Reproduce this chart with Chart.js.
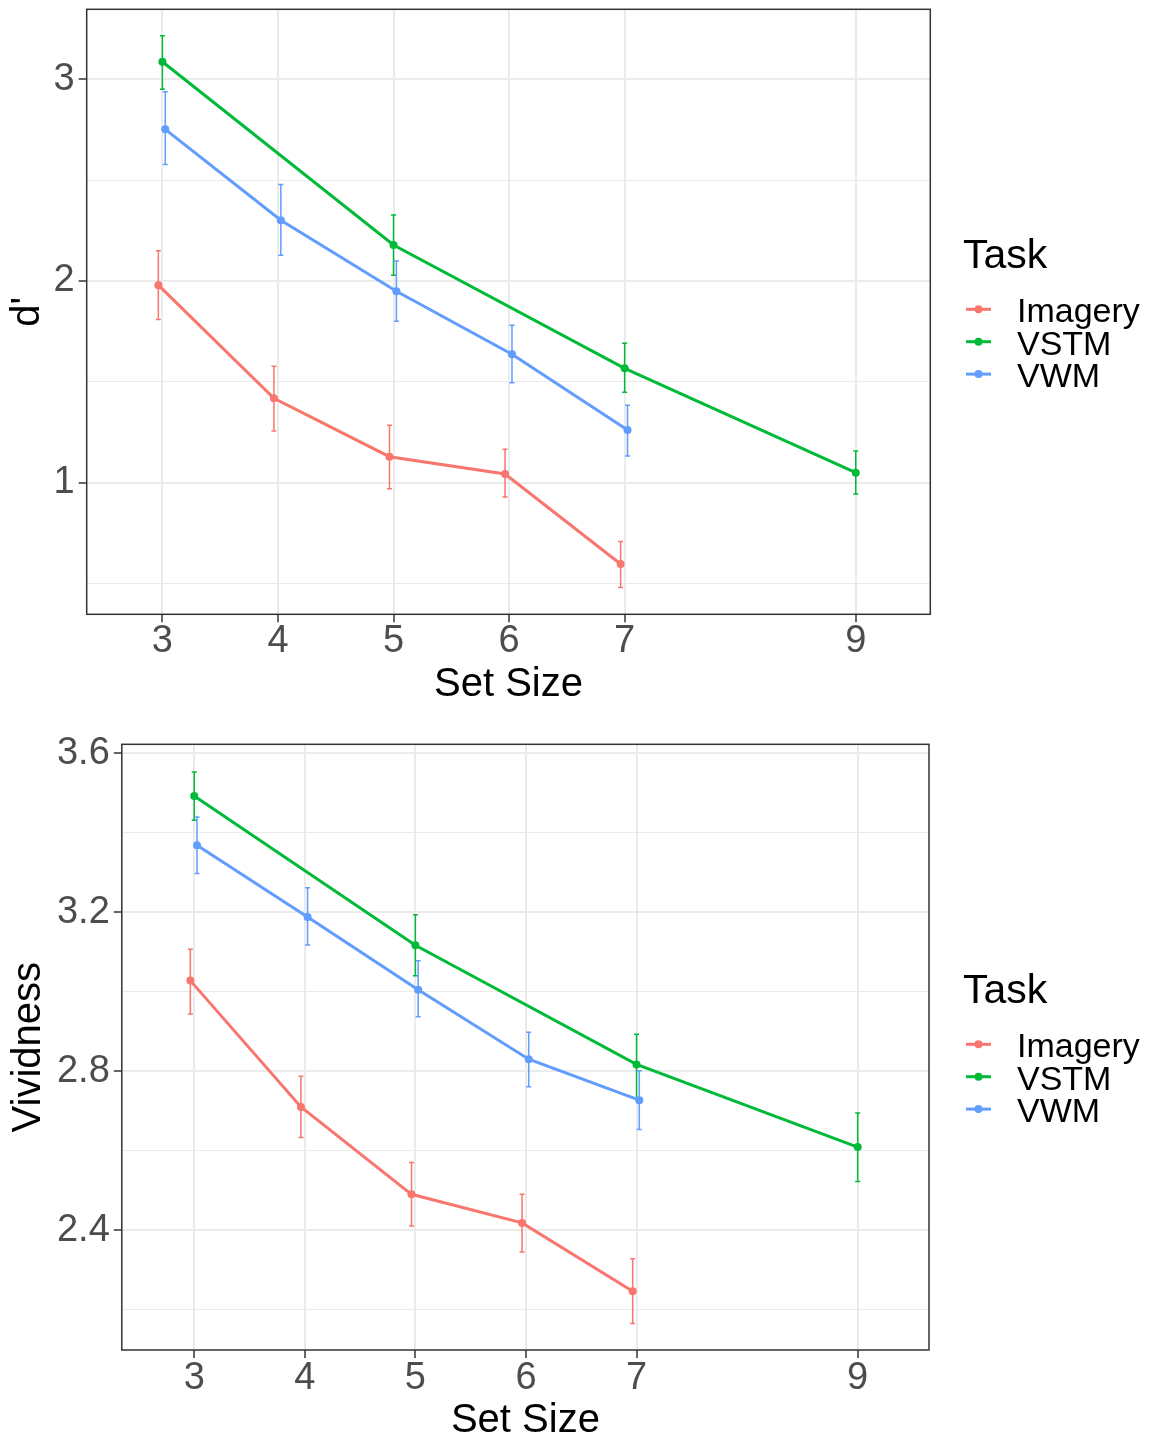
<!DOCTYPE html>
<html>
<head>
<meta charset="utf-8">
<script src="https://cdn.jsdelivr.net/npm/chart.js@4.4.0/dist/chart.umd.min.js"></script>
<style>
  html, body { margin: 0; padding: 0; background: #fff; overflow: hidden; }
  canvas { display: block; }
</style>
</head>
<body>
<canvas id="dprime" width="1151" height="712"></canvas>
<canvas id="vivid" width="1151" height="729"></canvas>
<script>
const family = "'Liberation Sans', Arial, sans-serif";
Chart.defaults.font.family = family;

const taskNames = ['Imagery', 'VSTM', 'VWM'];
const taskColors = ['#F8766D', '#00BA38', '#619CFF'];
// small horizontal shift so the three tasks don't overlap
const dodge = [-0.035, 0, 0.025];

const imagerySizes = [3, 4, 5, 6, 7];
const vstmSizes = [3, 5, 7, 9];
const vwmSizes = [3, 4, 5, 6, 7];
const xTicks = [3, 4, 5, 6, 7, 9];
const xRange = [2.345, 9.645];

// d' means with lower / upper error bounds
const dImagery = [1.979, 1.418, 1.129, 1.043, 0.597];
const dImageryLo = [1.809, 1.256, 0.970, 0.929, 0.481];
const dImageryHi = [2.149, 1.577, 1.285, 1.166, 0.709];
const dVstm = [3.086, 2.178, 1.567, 1.050];
const dVstmLo = [2.950, 2.028, 1.448, 0.944];
const dVstmHi = [3.215, 2.327, 1.691, 1.157];
const dVwm = [2.751, 2.301, 1.949, 1.637, 1.261];
const dVwmLo = [2.577, 2.127, 1.800, 1.495, 1.132];
const dVwmHi = [2.937, 2.478, 2.099, 1.780, 1.384];
const dMajor = [1, 2, 3];
const dMinor = [0.5, 1.5, 2.5];
const dRange = [0.348, 3.346];

// vividness ratings
const vImagery = [3.028, 2.710, 2.490, 2.418, 2.246];
const vImageryLo = [2.944, 2.633, 2.410, 2.345, 2.165];
const vImageryHi = [3.107, 2.787, 2.570, 2.490, 2.328];
const vVstm = [3.493, 3.117, 2.817, 2.609];
const vVstmLo = [3.432, 3.040, 2.732, 2.522];
const vVstmHi = [3.553, 3.194, 2.893, 2.695];
const vVwm = [3.369, 3.188, 3.005, 2.830, 2.727];
const vVwmLo = [3.298, 3.118, 2.937, 2.761, 2.653];
const vVwmHi = [3.440, 3.262, 3.078, 2.898, 2.801];
const vMajor = [2.4, 2.8, 3.2, 3.6];
const vMinor = [2.2, 2.6, 3.0, 3.4];
const vRange = [2.098, 3.623];

function makeSeries(sizes, mean, lo, hi, k) {
  return {
    label: taskNames[k],
    data: sizes.map((s, i) => ({ x: s + dodge[k], y: mean[i] })),
    errLo: lo,
    errHi: hi,
    borderColor: taskColors[k],
    backgroundColor: taskColors[k],
    borderWidth: 3,
    pointRadius: 4,
    pointHoverRadius: 4,
    pointBorderWidth: 0,
    tension: 0,
    fill: false
  };
}

// vertical error bars with short caps
const errorBars = {
  id: 'errorBars',
  beforeDatasetsDraw(chart) {
    const ctx = chart.ctx, xs = chart.scales.x, ys = chart.scales.y;
    chart.data.datasets.forEach(ds => {
      ctx.save();
      ctx.strokeStyle = ds.borderColor;
      ctx.lineWidth = 1.5;
      ds.data.forEach((p, i) => {
        const x = xs.getPixelForValue(p.x);
        const yHi = ys.getPixelForValue(ds.errHi[i]);
        const yLo = ys.getPixelForValue(ds.errLo[i]);
        ctx.beginPath();
        ctx.moveTo(x, yHi); ctx.lineTo(x, yLo);
        ctx.moveTo(x - 2.5, yHi); ctx.lineTo(x + 2.5, yHi);
        ctx.moveTo(x - 2.5, yLo); ctx.lineTo(x + 2.5, yLo);
        ctx.stroke();
      });
      ctx.restore();
    });
  }
};

// box round the panel
const panelFrame = {
  id: 'panelFrame',
  afterDraw(chart) {
    const a = chart.chartArea, ctx = chart.ctx;
    ctx.save();
    ctx.strokeStyle = '#333333';
    ctx.lineWidth = 1.5;
    ctx.strokeRect(a.left, a.top, a.right - a.left, a.bottom - a.top);
    ctx.restore();
  }
};

// "Task" key on the right
const taskLegend = {
  id: 'taskLegend',
  afterDraw(chart) {
    const ctx = chart.ctx, top = chart.chartArea.top;
    ctx.save();
    ctx.textBaseline = 'alphabetic';
    ctx.textAlign = 'left';
    ctx.fillStyle = '#000';
    ctx.font = '41px ' + family;
    ctx.fillText('Task', 963, top + 259);
    ctx.font = '34px ' + family;
    chart.data.datasets.forEach((ds, k) => {
      const base = top + 313 + k * 32.4;
      const ly = base - 13;
      ctx.strokeStyle = ds.borderColor;
      ctx.lineWidth = 3;
      ctx.beginPath();
      ctx.moveTo(966, ly); ctx.lineTo(991, ly);
      ctx.stroke();
      ctx.fillStyle = ds.borderColor;
      ctx.beginPath();
      ctx.arc(978.5, ly, 4, 0, Math.PI * 2);
      ctx.fill();
      ctx.fillStyle = '#000';
      ctx.fillText(ds.label, 1017, base);
    });
    ctx.restore();
  }
};

function makePanel(id, datasets, cfg) {
  const yTicks = cfg.major.concat(cfg.minor).sort((a, b) => a - b);
  const isMajor = c => c.tick && cfg.major.includes(c.tick.value);
  return new Chart(document.getElementById(id), {
    type: 'line',
    data: { datasets },
    plugins: [errorBars, panelFrame, taskLegend],
    options: {
      responsive: false,
      animation: false,
      devicePixelRatio: 1,
      layout: { padding: { top: cfg.padTop, right: cfg.padRight, left: 0, bottom: 0 } },
      plugins: { legend: { display: false }, tooltip: { enabled: false } },
      scales: {
        x: {
          type: 'linear',
          min: xRange[0],
          max: xRange[1],
          afterBuildTicks: s => { s.ticks = xTicks.map(v => ({ value: v })); },
          afterFit: s => { s.height = cfg.xHeight; s.paddingLeft = 0; s.paddingRight = 0; },
          ticks: {
            font: { size: 38, lineHeight: 1 },
            color: '#4D4D4D',
            padding: cfg.xPad,
            maxRotation: 0,
            autoSkip: false,
            callback: v => String(v)
          },
          grid: { color: '#EBEBEB', lineWidth: 2, tickColor: '#333333', tickLength: 8, tickWidth: 1.5 },
          border: { display: false },
          title: {
            display: true, text: 'Set Size', color: '#000',
            font: { size: 40, lineHeight: 1 },
            padding: { top: 0, bottom: cfg.xTitlePad }
          }
        },
        y: {
          type: 'linear',
          min: cfg.range[0],
          max: cfg.range[1],
          afterBuildTicks: s => { s.ticks = yTicks.map(v => ({ value: v })); },
          afterFit: s => { s.width = cfg.yWidth; s.paddingTop = 0; s.paddingBottom = 0; },
          ticks: {
            font: { size: 38, lineHeight: 1 },
            color: '#4D4D4D',
            padding: 4,
            autoSkip: false,
            callback: v => cfg.major.includes(v) ? cfg.fmt(v) : ''
          },
          grid: {
            color: '#EBEBEB',
            lineWidth: c => isMajor(c) ? 2 : 1,
            tickColor: c => isMajor(c) ? '#333333' : 'rgba(0,0,0,0)',
            tickLength: 8,
            tickWidth: 1.5
          },
          border: { display: false },
          title: {
            display: true, text: cfg.title, color: '#000',
            font: { size: 40, lineHeight: 1 },
            padding: { top: cfg.yTitlePad, bottom: 0 }
          }
        }
      }
    }
  });
}

makePanel('dprime', [
  makeSeries(imagerySizes, dImagery, dImageryLo, dImageryHi, 0),
  makeSeries(vstmSizes, dVstm, dVstmLo, dVstmHi, 1),
  makeSeries(vwmSizes, dVwm, dVwmLo, dVwmHi, 2)
], {
  title: "d'", major: dMajor, minor: dMinor, range: dRange, fmt: v => String(v),
  padTop: 9.3, padRight: 220.7, yWidth: 86.7, xHeight: 97.7, xPad: 0, xTitlePad: 7, yTitlePad: 8
});

makePanel('vivid', [
  makeSeries(imagerySizes, vImagery, vImageryLo, vImageryHi, 0),
  makeSeries(vstmSizes, vVstm, vVstmLo, vVstmHi, 1),
  makeSeries(vwmSizes, vVwm, vVwmLo, vVwmHi, 2)
], {
  title: 'Vividness', major: vMajor, minor: vMinor, range: vRange, fmt: v => v.toFixed(1),
  padTop: 32.3, padRight: 222, yWidth: 121.8, xHeight: 91, xPad: 2, xTitlePad: 0, yTitlePad: 9
});
</script>
</body>
</html>
